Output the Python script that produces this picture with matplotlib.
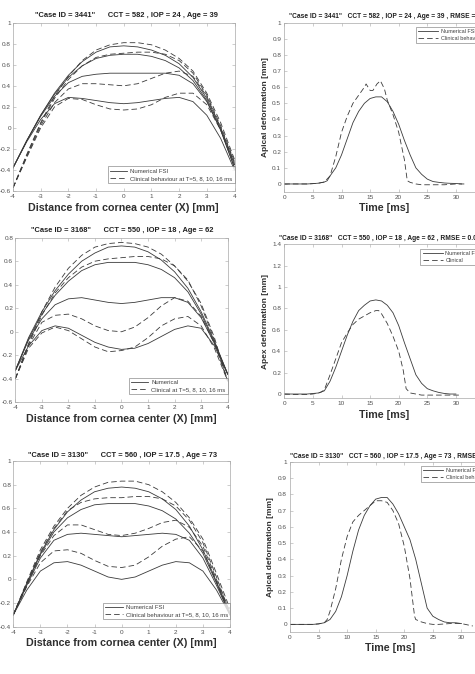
import numpy as np
import matplotlib
matplotlib.use('Agg')
import matplotlib.pyplot as plt

plt.rcParams['font.family'] = ['Liberation Sans', 'DejaVu Sans']
plt.rcParams['axes.unicode_minus'] = False
plt.rcParams['lines.scale_dashes'] = False

# ---- profile data (left column), x from -4 to 4 mm ----
x_prof = [-4, -3.5, -3, -2.5, -2, -1.5, -1, -0.5, 0, 0.5, 1, 1.5, 2, 2.5, 3, 3.5, 4]

# case 3441
num_3441 = [
    [-0.38, -0.13, 0.08, 0.23, 0.29, 0.28, 0.26, 0.24, 0.23, 0.24, 0.26, 0.28, 0.29, 0.25, 0.12, -0.10, -0.40],
    [-0.38, -0.12, 0.11, 0.30, 0.43, 0.49, 0.51, 0.52, 0.52, 0.52, 0.52, 0.52, 0.50, 0.42, 0.25, -0.02, -0.38],
    [-0.38, -0.12, 0.12, 0.32, 0.48, 0.59, 0.66, 0.69, 0.70, 0.70, 0.68, 0.64, 0.57, 0.45, 0.26, -0.02, -0.38],
    [-0.38, -0.12, 0.12, 0.33, 0.50, 0.63, 0.72, 0.77, 0.78, 0.77, 0.74, 0.69, 0.61, 0.48, 0.28, 0.00, -0.35],
]
cli_3441 = [
    [-0.57, -0.28, 0.00, 0.20, 0.28, 0.27, 0.22, 0.18, 0.17, 0.18, 0.22, 0.29, 0.33, 0.33, 0.22, -0.02, -0.35],
    [-0.57, -0.27, 0.02, 0.24, 0.37, 0.42, 0.42, 0.41, 0.40, 0.42, 0.47, 0.52, 0.54, 0.49, 0.30, 0.00, -0.33],
    [-0.57, -0.26, 0.04, 0.28, 0.46, 0.59, 0.67, 0.70, 0.71, 0.72, 0.72, 0.70, 0.64, 0.52, 0.31, 0.02, -0.32],
    [-0.57, -0.25, 0.05, 0.30, 0.49, 0.64, 0.74, 0.79, 0.81, 0.81, 0.79, 0.74, 0.66, 0.54, 0.33, 0.05, -0.30],
]

# case 3168
num_3168 = [
    [-0.33, -0.12, 0.01, 0.05, 0.03, -0.03, -0.09, -0.13, -0.15, -0.14, -0.10, -0.04, 0.02, 0.05, 0.03, -0.12, -0.36],
    [-0.33, -0.07, 0.11, 0.23, 0.28, 0.29, 0.27, 0.25, 0.24, 0.25, 0.27, 0.29, 0.29, 0.25, 0.12, -0.10, -0.36],
    [-0.33, -0.06, 0.15, 0.31, 0.43, 0.52, 0.57, 0.59, 0.59, 0.59, 0.57, 0.53, 0.46, 0.34, 0.15, -0.09, -0.36],
    [-0.33, -0.05, 0.17, 0.35, 0.49, 0.60, 0.67, 0.72, 0.73, 0.72, 0.68, 0.61, 0.51, 0.37, 0.17, -0.08, -0.36],
]
cli_3168 = [
    [-0.40, -0.14, -0.01, 0.04, 0.01, -0.06, -0.13, -0.17, -0.16, -0.13, -0.05, 0.05, 0.11, 0.13, 0.05, -0.14, -0.42],
    [-0.40, -0.12, 0.08, 0.14, 0.15, 0.11, 0.05, 0.01, 0.00, 0.04, 0.12, 0.22, 0.29, 0.26, 0.13, -0.10, -0.42],
    [-0.40, -0.11, 0.14, 0.33, 0.46, 0.55, 0.60, 0.62, 0.63, 0.64, 0.64, 0.62, 0.56, 0.44, 0.22, -0.07, -0.42],
    [-0.40, -0.10, 0.17, 0.38, 0.54, 0.65, 0.72, 0.75, 0.76, 0.75, 0.72, 0.66, 0.56, 0.43, 0.24, -0.05, -0.42],
]

# case 3130
num_3130 = [
    [-0.30, -0.09, 0.07, 0.14, 0.15, 0.12, 0.07, 0.02, 0.00, 0.02, 0.07, 0.12, 0.15, 0.14, 0.07, -0.09, -0.30],
    [-0.30, -0.05, 0.18, 0.33, 0.38, 0.39, 0.38, 0.37, 0.36, 0.37, 0.38, 0.39, 0.38, 0.33, 0.18, -0.05, -0.30],
    [-0.30, -0.04, 0.21, 0.40, 0.52, 0.59, 0.63, 0.64, 0.64, 0.64, 0.62, 0.58, 0.51, 0.39, 0.22, -0.03, -0.30],
    [-0.30, -0.03, 0.22, 0.42, 0.57, 0.67, 0.74, 0.77, 0.78, 0.77, 0.74, 0.68, 0.59, 0.45, 0.25, -0.02, -0.30],
]
cli_3130 = [
    [-0.30, -0.06, 0.14, 0.24, 0.25, 0.22, 0.16, 0.11, 0.10, 0.12, 0.19, 0.28, 0.34, 0.36, 0.24, -0.02, -0.28],
    [-0.30, -0.05, 0.20, 0.37, 0.46, 0.46, 0.42, 0.38, 0.37, 0.39, 0.43, 0.48, 0.50, 0.44, 0.28, 0.00, -0.28],
    [-0.30, -0.03, 0.23, 0.43, 0.58, 0.65, 0.68, 0.69, 0.69, 0.70, 0.70, 0.68, 0.62, 0.50, 0.31, 0.02, -0.28],
    [-0.30, -0.02, 0.25, 0.45, 0.60, 0.71, 0.78, 0.82, 0.83, 0.83, 0.80, 0.74, 0.65, 0.52, 0.34, 0.05, -0.25],
]

# ---- apex deformation vs time (right column) ----
t_num_3441 = [0, 2, 4, 5, 6, 7, 7.5, 8, 9, 10, 11, 12, 13, 14, 15, 16, 17, 18, 19, 20, 21, 22, 23, 24, 25, 26, 27, 28, 29, 30, 31]
d_num_3441 = [0, 0, 0, 0.002, 0.005, 0.012, 0.02, 0.05, 0.10, 0.18, 0.28, 0.38, 0.45, 0.50, 0.53, 0.54, 0.54, 0.51, 0.45, 0.37, 0.27, 0.18, 0.10, 0.06, 0.03, 0.015, 0.01, 0.006, 0.004, 0.003, 0.0]
t_cli_3441 = [0, 2, 4, 5, 6, 7, 8, 9, 10, 11, 12, 13, 14, 14.3, 15, 15.5, 16.2, 16.8, 17.5, 18, 19, 20, 21, 21.5, 22, 23, 24, 26, 28, 30, 32]
d_cli_3441 = [0, 0, 0, 0.002, 0.005, 0.012, 0.05, 0.17, 0.32, 0.42, 0.50, 0.55, 0.60, 0.62, 0.58, 0.58, 0.62, 0.64, 0.59, 0.52, 0.43, 0.32, 0.15, 0.02, 0.01, 0.0, -0.005, -0.005, -0.005, 0.0, 0.0]

t_num_3168 = [0, 2, 4, 5, 6, 7, 8, 9, 10, 11, 12, 13, 14, 15, 16, 17, 18, 19, 20, 21, 22, 23, 24, 25, 26, 27, 28, 29, 30]
d_num_3168 = [0, 0, 0, 0.005, 0.01, 0.03, 0.12, 0.25, 0.40, 0.55, 0.68, 0.78, 0.83, 0.87, 0.88, 0.87, 0.83, 0.76, 0.64, 0.48, 0.33, 0.18, 0.10, 0.05, 0.03, 0.015, 0.005, 0.0, 0.0]
t_cli_3168 = [0, 2, 4, 5, 6, 6.5, 7, 8, 9, 10, 11, 12, 13, 14, 15, 16, 16.5, 17, 18, 19, 20, 20.8, 21.3, 22, 23, 24, 26, 28, 30, 31]
d_cli_3168 = [0, -0.005, -0.005, 0.0, 0.01, 0.02, 0.04, 0.18, 0.33, 0.48, 0.57, 0.65, 0.70, 0.73, 0.76, 0.78, 0.78, 0.75, 0.66, 0.54, 0.40, 0.22, 0.05, 0.01, 0.0, -0.01, -0.01, -0.01, -0.01, -0.01]

t_num_3130 = [0, 2, 4, 5, 6, 7, 8, 9, 10, 11, 12, 13, 14, 15, 16, 17, 18, 19, 20, 21, 22, 23, 24, 25, 26, 27, 28, 29, 30]
d_num_3130 = [0, 0, 0, 0.003, 0.01, 0.03, 0.08, 0.17, 0.30, 0.45, 0.58, 0.67, 0.73, 0.77, 0.78, 0.78, 0.74, 0.68, 0.60, 0.52, 0.40, 0.25, 0.10, 0.05, 0.03, 0.015, 0.01, 0.01, 0.005]
t_cli_3130 = [0, 2, 4, 5, 6, 6.5, 7, 8, 9, 10, 11, 12, 13, 14, 15, 16, 17, 18, 19, 20, 21, 21.8, 22, 23, 24, 25, 26, 28, 30, 32]
d_cli_3130 = [0, 0, 0, 0.003, 0.01, 0.03, 0.08, 0.22, 0.40, 0.54, 0.63, 0.67, 0.70, 0.73, 0.76, 0.76, 0.75, 0.70, 0.62, 0.48, 0.28, 0.05, 0.03, 0.015, 0.005, 0.0, 0.0, 0.005, 0.005, -0.01]

W, H = 475, 674
fig = plt.figure(figsize=(W / 100, H / 100), dpi=100)

LINE = '#3a3a3a'
DASH = (4, 2.2)


def px_axes(left, top, right, bottom):
    return fig.add_axes([left / W, 1 - bottom / H, (right - left) / W, (bottom - top) / H])


def style(ax):
    for s in ax.spines.values():
        s.set_color('#a8a8a8')
        s.set_linewidth(0.5)
    ax.tick_params(direction='in', length=2, width=0.4, colors='#a8a8a8',
                   labelcolor='#505050', labelsize=4.6, top=True, right=True, pad=2.2)
    ax.xaxis.set_major_formatter(matplotlib.ticker.FormatStrFormatter('%g'))
    ax.yaxis.set_major_formatter(matplotlib.ticker.FormatStrFormatter('%g'))


def finish_legend(leg):
    leg.get_frame().set_edgecolor('#707070')
    leg.get_frame().set_linewidth(0.5)
    for txt in leg.get_texts():
        txt.set_color('#404040')


def profile_panel(box, num, cli, ylim, yticks, title, tpos, labels, lbottom):
    ax = px_axes(*box)
    for i in range(4):
        ax.plot(x_prof, num[i], color=LINE, lw=0.6,
                label=labels[0] if i == 0 else None)
    for i in range(4):
        ax.plot(x_prof, cli[i], color=LINE, lw=0.6, dashes=DASH,
                label=labels[1] if i == 0 else None)
    ax.set_xlim(-4, 4)
    ax.set_ylim(*ylim)
    ax.set_xticks(range(-4, 5))
    ax.set_yticks(yticks)
    style(ax)
    ax.tick_params(axis='y', pad=1.5)
    ax.set_xlabel('Distance from cornea center (X) [mm]', fontsize=7.7,
                  fontweight='bold', color='#303030', labelpad=2.5)
    fig.text(tpos[0] / W, 1 - tpos[1] / H, title, fontsize=5.4, fontweight='bold',
             ha='center', va='center', color='#202020')
    leg = ax.legend(loc='lower right', bbox_to_anchor=(box[2] / W, 1 - lbottom / H),
                    bbox_transform=fig.transFigure, fontsize=4.3, frameon=True,
                    fancybox=False, borderaxespad=0, handlelength=2.9,
                    borderpad=0.35, labelspacing=0.35, handletextpad=0.5)
    finish_legend(leg)
    return ax


def time_panel(box, tn, dn, tc, dc, ylim, yticks, ylabel, title, tpos, labels, lbox):
    ax = px_axes(*box)
    ax.plot(tn, dn, color=LINE, lw=0.6, label=labels[0])
    ax.plot(tc, dc, color=LINE, lw=0.6, dashes=DASH, label=labels[1])
    ax.set_xlim(0, 35)
    ax.set_ylim(*ylim)
    ax.set_xticks(range(0, 36, 5))
    ax.set_yticks(yticks)
    style(ax)
    ax.set_xlabel('Time [ms]', fontsize=7.7, fontweight='bold', color='#303030', labelpad=2.5)
    ax.set_ylabel(ylabel, fontsize=6, fontweight='bold', color='#303030', labelpad=2.5)
    fig.text(tpos[0] / W, 1 - tpos[1] / H, title, fontsize=4.8, fontweight='bold',
             ha='left', va='center', color='#202020')
    leg = ax.legend(loc='upper left', bbox_to_anchor=(lbox[0] / W, 1 - lbox[1] / H),
                    bbox_transform=fig.transFigure, fontsize=4.0, frameon=True,
                    fancybox=False, borderaxespad=0, handlelength=3.6,
                    borderpad=0.4, labelspacing=0.35, handletextpad=0.5)
    finish_legend(leg)
    return ax


profile_panel((13, 22.7, 234.5, 191), num_3441, cli_3441, (-0.6, 1),
              np.round(np.arange(-0.6, 1.01, 0.2), 1),
              '"Case ID = 3441"      CCT = 582 , IOP = 24 , Age = 39', (126.5, 15.5),
              ['Numerical FSI', 'Clinical behaviour at T=5, 8, 10, 16 ms'], 183)

profile_panel((15.3, 237.7, 227.7, 402.3), num_3168, cli_3168, (-0.6, 0.8),
              np.round(np.arange(-0.6, 0.81, 0.2), 1),
              '"Case ID = 3168"      CCT = 550 , IOP = 18 , Age = 62', (122.5, 230.7),
              ['Numerical', 'Clinical at T=5, 8, 10, 16 ms'], 394.3)

profile_panel((13.3, 461, 230, 626.7), num_3130, cli_3130, (-0.4, 1),
              np.round(np.arange(-0.4, 1.01, 0.2), 1),
              '"Case ID = 3130"      CCT = 560 , IOP = 17.5 , Age = 73', (123, 455.7),
              ['Numerical FSI', 'Clinical behaviour at T=5, 8, 10, 16 ms'], 619.3)

time_panel((284.3, 22.7, 484.5, 191.7), t_num_3441, d_num_3441, t_cli_3441, d_cli_3441,
           (-0.048, 1), np.round(np.arange(0, 1.01, 0.1), 1), 'Apical deformation [mm]',
           '"Case ID = 3441"   CCT = 582 , IOP = 24 , Age = 39 , RMSE = 0.05', (289, 16.7),
           ['Numerical FSI', 'Clinical behaviour'], (415.7, 27))

time_panel((284.3, 244.3, 484.5, 398.3), t_num_3168, d_num_3168, t_cli_3168, d_cli_3168,
           (-0.04, 1.4), np.round(np.arange(0, 1.41, 0.2), 1), 'Apex deformation [mm]',
           '"Case ID = 3168"   CCT = 550 , IOP = 18 , Age = 62 , RMSE = 0.09', (279, 239),
           ['Numerical FSI', 'Clinical'], (420.3, 249))

time_panel((290, 461.7, 490, 631.7), t_num_3130, d_num_3130, t_cli_3130, d_cli_3130,
           (-0.045, 1), np.round(np.arange(0, 1.01, 0.1), 1), 'Apical deformation [mm]',
           '"Case ID = 3130"   CCT = 560 , IOP = 17.5 , Age = 73 , RMSE = 0.04', (290, 456.7),
           ['Numerical FSI', 'Clinical behaviour'], (421, 466))

fig.savefig('out.png', dpi=100)
